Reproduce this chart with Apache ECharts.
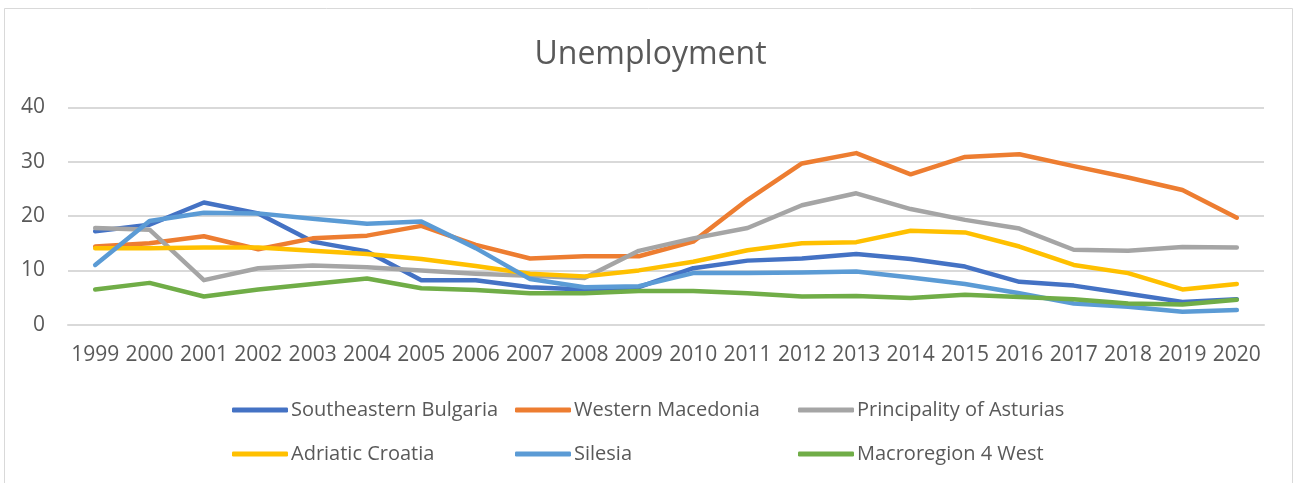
<!DOCTYPE html>
<html>
<head>
<meta charset="utf-8">
<title>Unemployment</title>
<script src="https://cdn.jsdelivr.net/npm/echarts@6/dist/echarts.min.js"></script>
<style>
  html, body { margin: 0; padding: 0; background: #ffffff; }
  #chart { width: 1301px; height: 483px; }
</style>
</head>
<body>
<div id="chart"></div>
<script>
// Unemployment rate (%) by region, 1999-2020
const years = ['1999','2000','2001','2002','2003','2004','2005','2006','2007','2008','2009',
               '2010','2011','2012','2013','2014','2015','2016','2017','2018','2019','2020'];

const southeasternBulgaria = [17.2, 18.4, 22.5, 20.5, 15.3, 13.5, 8.2, 8.2, 6.9, 6.5, 6.9,
                              10.4, 11.8, 12.2, 13.0, 12.1, 10.7, 7.9, 7.2, 5.7, 4.2, 4.7];
const westernMacedonia    = [14.4, 15.0, 16.3, 13.9, 15.9, 16.4, 18.2, 14.7, 12.2, 12.6, 12.6,
                              15.3, 23.0, 29.7, 31.6, 27.7, 30.9, 31.4, 29.2, 27.1, 24.8, 19.7];
const asturias            = [17.8, 17.5, 8.2, 10.4, 10.9, 10.6, 10.0, 9.4, 9.0, 8.6, 13.6,
                              15.9, 17.8, 22.0, 24.2, 21.3, 19.3, 17.7, 13.8, 13.6, 14.3, 14.2];
const adriaticCroatia     = [14.1, 14.1, 14.2, 14.2, 13.6, 13.0, 12.1, 10.8, 9.4, 8.9, 10.0,
                              11.6, 13.7, 15.0, 15.2, 17.3, 17.0, 14.4, 11.0, 9.5, 6.5, 7.5];
const silesia             = [11.0, 19.1, 20.6, 20.5, 19.5, 18.6, 19.0, 14.1, 8.4, 6.9, 7.1,
                              9.5, 9.5, 9.6, 9.8, 8.7, 7.5, 5.8, 3.9, 3.3, 2.4, 2.7];
const macroregion4West    = [6.5, 7.7, 5.2, 6.5, 7.5, 8.5, 6.7, 6.4, 5.8, 5.8, 6.2,
                              6.2, 5.8, 5.2, 5.3, 4.9, 5.5, 5.1, 4.7, 3.9, 3.7, 4.6];

const seriesNames = ['Southeastern Bulgaria', 'Western Macedonia', 'Principality of Asturias',
                     'Adriatic Croatia', 'Silesia', 'Macroregion 4 West'];
const seriesValues = [southeasternBulgaria, westernMacedonia, asturias,
                      adriaticCroatia, silesia, macroregion4West];
const seriesColors = ['#4472C4', '#ED7D31', '#A5A5A5', '#FFC000', '#5B9BD5', '#70AD47'];

const yTicks = { min: 0, max: 40, interval: 10 };

const FONT = '"Open Sans", "Liberation Sans", sans-serif';
const TEXT = '#595959';
const GRID = '#d9d9d9';

const chart = echarts.init(document.getElementById('chart'), null, { renderer: 'canvas' });

// Legend laid out as a 3-column grid: one vertical block per column
function legendBlock(left, names) {
  return {
    orient: 'vertical',
    left: left,
    top: 400,
    padding: 0,
    itemGap: 24,
    itemWidth: 56,
    itemHeight: 5,
    icon: 'roundRect',
    data: names,
    textStyle: { fontFamily: FONT, fontSize: 20, color: TEXT, padding: [0, 0, 0, -2] },
    selectedMode: false
  };
}

chart.setOption({
  backgroundColor: '#ffffff',
  animation: false,
  graphic: [{
    type: 'rect',
    shape: { x: 4.5, y: 8.5, width: 1288, height: 500 },
    style: { fill: 'none', stroke: GRID, lineWidth: 1 },
    silent: true
  }],
  title: {
    text: 'Unemployment',
    left: 'center',
    top: 34,
    textStyle: { fontFamily: FONT, fontSize: 32, fontWeight: 'normal', color: TEXT }
  },
  legend: [
    legendBlock(232, [seriesNames[0], seriesNames[3]]),
    legendBlock(515, [seriesNames[1], seriesNames[4]]),
    legendBlock(798, [seriesNames[2], seriesNames[5]])
  ],
  grid: { left: 68, right: 37, top: 107.5, bottom: 158.3, containLabel: false },
  xAxis: {
    type: 'category',
    data: years,
    boundaryGap: true,
    axisLine: { show: true, lineStyle: { color: GRID, width: 2 } },
    axisTick: { show: false },
    axisLabel: { fontFamily: FONT, fontSize: 21, color: TEXT, margin: 20, interval: 0 }
  },
  yAxis: {
    type: 'value',
    min: yTicks.min,
    max: yTicks.max,
    interval: yTicks.interval,
    axisLine: { show: false },
    axisTick: { show: false },
    splitLine: { lineStyle: { color: GRID, width: 2 } },
    axisLabel: { fontFamily: FONT, fontSize: 21, color: TEXT, margin: 23 }
  },
  series: seriesNames.map((name, i) => ({
    name: name,
    type: 'line',
    data: seriesValues[i],
    showSymbol: false,
    symbol: 'none',
    color: seriesColors[i],
    lineStyle: { width: 4.5, color: seriesColors[i], cap: 'round', join: 'round' },
    z: 2 + i
  }))
});
</script>
</body>
</html>
